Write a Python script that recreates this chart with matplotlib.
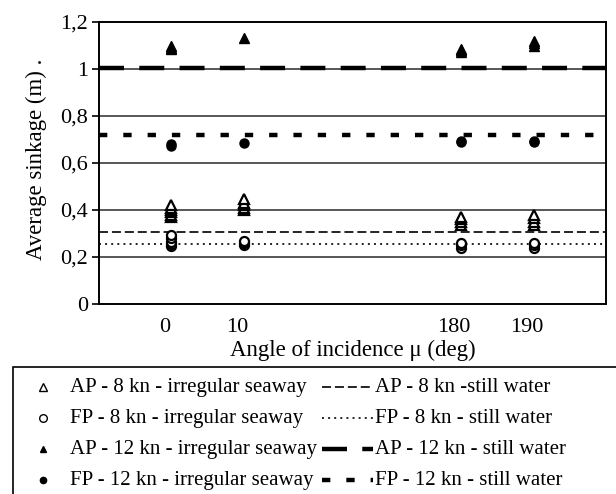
import matplotlib
matplotlib.use("Agg")
import matplotlib.pyplot as plt
from matplotlib.lines import Line2D
from matplotlib.patches import Rectangle
from matplotlib.ticker import FuncFormatter
from matplotlib.transforms import ScaledTranslation

plt.rcParams['font.family'] = ['Liberation Serif', 'DejaVu Serif']
plt.rcParams['lines.scale_dashes'] = False

# angles of incidence (deg) and their slot on the category-like x axis
angles = [0, 10, 180, 190]
slot = {0: 1, 10: 2, 180: 5, 190: 6}

# average sinkage (m), several runs per angle, irregular seaway
ap8_irr = [[0.372, 0.38, 0.39, 0.40, 0.41, 0.423], [0.398, 0.41, 0.42, 0.43, 0.445],
           [0.338, 0.35, 0.36, 0.372], [0.338, 0.35, 0.365, 0.38]]
fp8_irr = [[0.245, 0.255, 0.265, 0.28, 0.295], [0.25, 0.26, 0.27],
           [0.24, 0.25, 0.26], [0.24, 0.25, 0.26]]
ap12_irr = [[1.083, 1.09, 1.10], [1.132], [1.072, 1.08, 1.087], [1.10, 1.11, 1.119]]
fp12_irr = [[0.672, 0.681], [0.685], [0.69, 0.695], [0.688, 0.694]]

# still water reference values (m)
ap8_still = 0.307
fp8_still = 0.254
ap12_still = 1.005
fp12_still = 0.72

labels_irr = ["AP - 8 kn - irregular seaway", "FP - 8 kn - irregular seaway",
              "AP - 12 kn - irregular seaway", "FP - 12 kn - irregular seaway"]
labels_still = ["AP - 8 kn -still water", "FP - 8 kn - still water",
                "AP - 12 kn - still water", "FP - 12 kn - still water"]

W, H = 616, 494
fig = plt.figure(figsize=(W / 100, H / 100), dpi=100)
ax = fig.add_axes([99 / W, (H - 304) / H, 507 / W, 282 / H])

# line styles (points): width, dash pattern
line_styles = [
    dict(lw=1.2, dashes=(6.5, 2.8)),
    dict(lw=1.2, dashes=(1.4, 3)),
    dict(lw=3.2, dashes=(18, 11)),
    dict(lw=3.2, dashes=(6, 11.5)),
]
marker_styles = [
    dict(marker='^', mfc='white', mec='black', mew=1.6, ms=6.5),
    dict(marker='o', mfc='white', mec='black', mew=1.6, ms=6.5),
    dict(marker='^', mfc='black', mec='black', mew=1.0, ms=6.5),
    dict(marker='o', mfc='black', mec='black', mew=1.0, ms=6.5),
]

ax.set_xlim(0, 7)
ax.set_ylim(0, 1.2)
for y in [0.2, 0.4, 0.6, 0.8, 1.0]:
    ax.axhline(y, color='#4a4a4a', lw=1.3, zorder=1)

for val, st in zip([ap8_still, fp8_still, ap12_still, fp12_still], line_styles):
    ax.plot([0, 7], [val, val], color='black', solid_capstyle='butt',
            dash_capstyle='butt', zorder=2, **st)

for series, ms in zip([ap8_irr, fp8_irr, ap12_irr, fp12_irr], marker_styles):
    for a, vals in zip(angles, series):
        ax.plot([slot[a]] * len(vals), vals, ls='none', zorder=3, **ms)

ax.set_xticks([slot[a] for a in angles])
ax.set_xticklabels([str(a) for a in angles])
ax.set_yticks([0, 0.2, 0.4, 0.6, 0.8, 1.0, 1.2])
ax.yaxis.set_major_formatter(FuncFormatter(lambda v, p: f"{v:g}".replace('.', ',')))
ax.tick_params(axis='x', length=0, labelsize=16, pad=10)
ax.tick_params(axis='y', length=5, width=1.2, direction='out', labelsize=16, pad=3)
shift = ScaledTranslation(-7 / 100, 0, fig.dpi_scale_trans)
for lab in ax.get_xticklabels():
    lab.set_transform(lab.get_transform() + shift)
for s in ax.spines.values():
    s.set_linewidth(1.4)

ax.set_xlabel("Angle of incidence μ (deg)", fontsize=16.5)
ax.xaxis.set_label_coords(0.5, -0.128)
ax.set_ylabel("Average sinkage (m) .", fontsize=16.5)
ax.yaxis.set_label_coords(-0.103, 0.514)

# legend box, running off the right and bottom edges
fig.add_artist(Rectangle((13 / W, -0.1), 1.1, (H - 367) / H + 0.1, transform=fig.transFigure,
                         fill=False, ec='black', lw=1.2))
rows = [387, 418, 449, 480]
for i, y in enumerate(rows):
    fy = (H - y) / H
    mk = dict(marker_styles[i])
    mk['ms'] = 5.5 if i < 2 else 4.5
    mk['mew'] = 1.0
    fig.add_artist(Line2D([43 / W], [fy], transform=fig.transFigure, ls='none', **mk))
    fig.text(70 / W, fy, labels_irr[i], fontsize=15, va='center', ha='left')
    fig.add_artist(Line2D([322 / W, 373 / W], [fy, fy], transform=fig.transFigure,
                          color='black', dash_capstyle='butt', **line_styles[i]))
    fig.text(375 / W, fy, labels_still[i], fontsize=15, va='center', ha='left')

fig.savefig("out.png", dpi=100)
